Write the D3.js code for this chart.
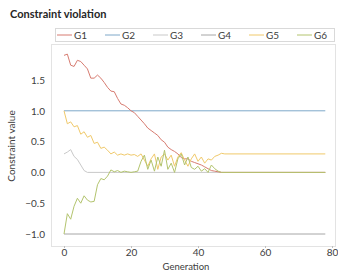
<!DOCTYPE html>
<html>
<head>
<meta charset="utf-8">
<script src="https://cdn.jsdelivr.net/npm/d3@7"></script>
<style>
  body { margin: 0; background: #fff; }
  text { font-family: Lato, "Open Sans", sans-serif; }
</style>
</head>
<body>
<div id="chart"></div>
<script>
// Constraint violation per generation
var seriesNames = ["G1", "G2", "G3", "G4", "G5", "G6"]
var seriesColors = ["#d77b70", "#7ea8c9", "#c9c9c9", "#a6a6a6", "#f0c96a", "#b3c46e"]
var lastGen = 78

var g1 = [1.90, 1.92, 1.74, 1.72, 1.82, 1.80, 1.74, 1.68, 1.53, 1.53,
          1.58, 1.53, 1.46, 1.38, 1.32, 1.31, 1.20, 1.11, 1.09, 1.05,
          1.00, 0.97, 0.91, 0.85, 0.79, 0.72, 0.68, 0.64, 0.60, 0.53,
          0.49, 0.41, 0.37, 0.34, 0.30, 0.24, 0.22, 0.22, 0.18, 0.16,
          0.14, 0.12, 0.09, 0.06, 0.03, 0.02, 0.01, 0.00]
var g2 = [1.00]
var g3 = [0.30, 0.33, 0.37, 0.26, 0.21, 0.12, 0.03, 0.00]
var g4 = [-1.00]
var g5 = [1.00, 0.79, 0.82, 0.74, 0.76, 0.62, 0.66, 0.57, 0.60, 0.47,
          0.49, 0.39, 0.41, 0.36, 0.30, 0.33, 0.28, 0.30, 0.28, 0.30,
          0.28, 0.29, 0.26, 0.30, 0.20, 0.10, 0.22, 0.30, 0.05, 0.25,
          0.30, 0.20, 0.28, 0.10, 0.25, 0.32, 0.20, 0.10, 0.22, 0.30,
          0.18, 0.25, 0.15, 0.22, 0.20, 0.26, 0.28, 0.31, 0.30]
var g6 = [-1.00, -0.67, -0.76, -0.55, -0.42, -0.50, -0.38, -0.45, -0.48, -0.47,
          -0.20, -0.10, -0.12, -0.06, 0.04, 0.01, 0.03, 0.00, 0.02, 0.01,
          0.00, 0.01, 0.02, 0.18, 0.28, 0.05, 0.20, 0.02, 0.25, 0.10,
          0.36, 0.05, 0.15, 0.00, 0.22, 0.30, 0.12, 0.25, 0.08, 0.05,
          0.10, 0.02, 0.06, 0.00, 0.12, 0.06, 0.02, 0.00]
var allSeries = [g1, g2, g3, g4, g5, g6]

var xTicks = [0, 20, 40, 60, 80]
var yTicks = [-1.0, -0.5, 0.0, 0.5, 1.0, 1.5]

var W = 338, H = 270
var box = {left: 51, right: 335, top: 44, bottom: 246}

var svg = d3.select("#chart").append("svg")
  .attr("width", W)
  .attr("height", H)

var x = d3.scaleLinear().domain([0, 80]).range([64, 332])
var y = d3.scaleLinear().domain([-1, 1.5]).range([234, 80])

// title
svg.append("text")
  .attr("x", 10).attr("y", 18)
  .attr("font-size", 11).attr("font-weight", "bold").attr("fill", "#262626")
  .text("Constraint violation")

// legend box
svg.append("rect")
  .attr("x", 55.5).attr("y", 28.5).attr("width", 279).attr("height", 13)
  .attr("fill", "none").attr("stroke", "#d9d9d9")

var legend = svg.selectAll(".leg").data(seriesNames).enter().append("g")
  .attr("transform", function(d, i){ return "translate(" + (57 + i * 48) + ",35)" })
legend.append("line")
  .attr("x1", 0).attr("x2", 15).attr("y1", 0).attr("y2", 0)
  .attr("stroke", function(d, i){ return seriesColors[i] })
  .attr("stroke-width", 1)
legend.append("text")
  .attr("x", 17).attr("y", 3.5)
  .attr("font-size", 10).attr("fill", "#404040")
  .text(function(d){ return d })

// plot area
svg.append("rect")
  .attr("x", box.left + 0.5).attr("y", box.top + 0.5)
  .attr("width", box.right - box.left).attr("height", box.bottom - box.top)
  .attr("fill", "none").attr("stroke", "#e3e3e3")

// y axis labels
svg.append("g")
  .attr("transform", "translate(" + (box.left - 3) + ",0)")
  .call(d3.axisLeft(y).tickValues(yTicks).tickSize(0).tickFormat(d3.format(".1f")))
  .call(function(g){ g.select(".domain").remove() })
  .selectAll("text")
  .attr("font-size", 10).attr("fill", "#404040")
  .attr("font-family", "Lato, 'Open Sans', sans-serif")

// x axis
svg.append("g")
  .attr("transform", "translate(0," + box.bottom + ")")
  .call(d3.axisBottom(x).tickValues(xTicks).tickSize(2).tickPadding(1))
  .call(function(g){
    g.select(".domain").remove()
    g.selectAll("line").attr("stroke", "#bfbfbf")
  })
  .selectAll("text")
  .attr("font-size", 10).attr("fill", "#404040")
  .attr("font-family", "Lato, 'Open Sans', sans-serif")

svg.append("text")
  .attr("x", 186).attr("y", 269.5)
  .attr("text-anchor", "middle").attr("font-size", 9.5).attr("fill", "#404040")
  .text("Generation")

svg.append("text")
  .attr("transform", "translate(15,146) rotate(-90)")
  .attr("text-anchor", "middle").attr("font-size", 10).attr("fill", "#404040")
  .text("Constraint value")

// series lines
var line = d3.line()
  .x(function(p){ return x(p[0]) })
  .y(function(p){ return y(p[1]) })

var drawOrder = [3, 2, 1, 0, 4, 5]
drawOrder.forEach(function(k){
  var vals = allSeries[k]
  var pts = vals.map(function(v, i){ return [i, v] })
  pts.push([lastGen, vals[vals.length - 1]])
  svg.append("path")
    .datum(pts)
    .attr("d", line)
    .attr("fill", "none")
    .attr("stroke", seriesColors[k])
    .attr("stroke-width", 1)
})
</script>
</body>
</html>
